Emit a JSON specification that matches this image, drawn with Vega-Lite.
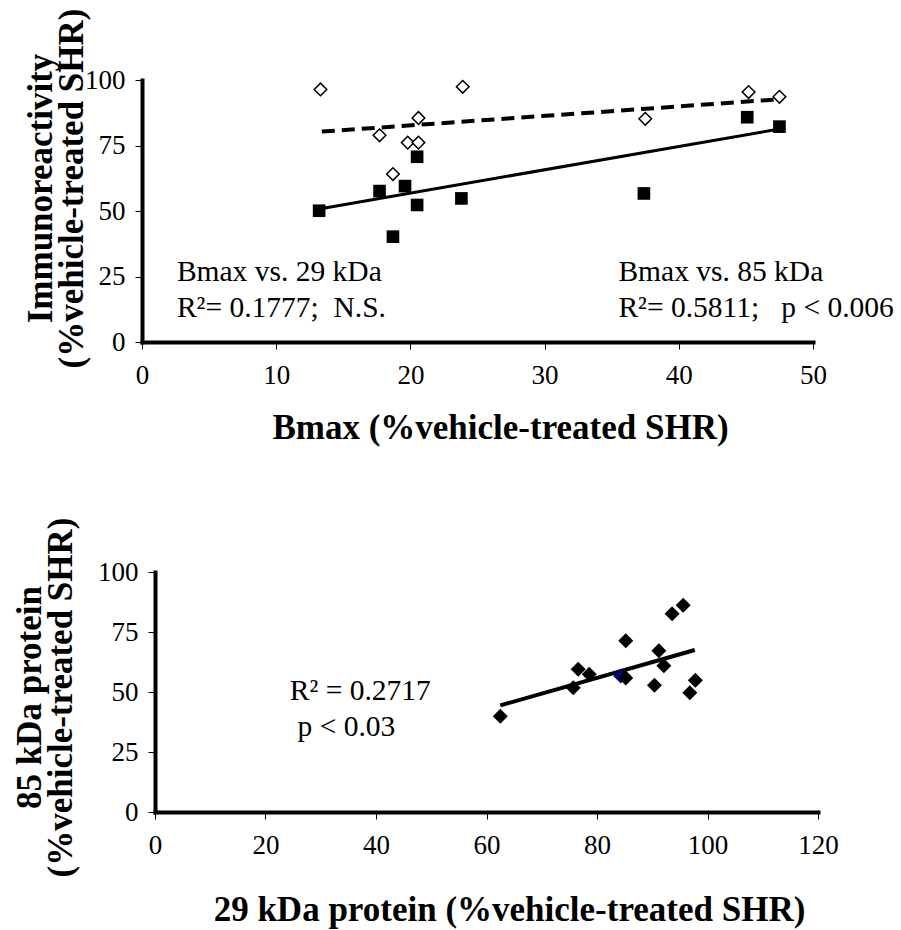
{
  "$schema": "https://vega.github.io/schema/vega-lite/v6.json",
  "background": "white",
  "padding": {"left": 12, "top": 8, "right": 5, "bottom": 5},
  "spacing": 230,
  "bounds": "flush",
  "config": {
    "font": "Liberation Serif",
    "view": {"stroke": null},
    "axis": {
      "grid": false,
      "domainColor": "black",
      "domainWidth": 4,
      "domainCap": "square",
      "tickColor": "black",
      "tickWidth": 1,
      "tickSize": 7,
      "labelFont": "Liberation Serif",
      "labelFontSize": 27,
      "labelColor": "black",
      "titleFont": "Liberation Serif",
      "titleFontSize": 35,
      "titleFontWeight": "bold",
      "titleColor": "black",
      "titleLineHeight": 31
    },
    "axisX": {"labelPadding": 13, "labelFlush": false, "labelOverlap": false},
    "axisY": {"labelPadding": 10, "labelOverlap": false}
  },
  "datasets": {
    "sq85": [
      {"bmax": 13.2, "pct": 50.1},
      {"bmax": 17.7, "pct": 57.6},
      {"bmax": 18.7, "pct": 40.2},
      {"bmax": 19.6, "pct": 59.5},
      {"bmax": 20.5, "pct": 70.7},
      {"bmax": 20.5, "pct": 52.3},
      {"bmax": 23.8, "pct": 54.8},
      {"bmax": 37.4, "pct": 56.7},
      {"bmax": 45.1, "pct": 85.8},
      {"bmax": 47.5, "pct": 82.2}
    ],
    "dm29": [
      {"bmax": 13.3, "pct": 96.4},
      {"bmax": 17.7, "pct": 78.9},
      {"bmax": 18.7, "pct": 64.1},
      {"bmax": 19.8, "pct": 76.1},
      {"bmax": 20.6, "pct": 85.5},
      {"bmax": 20.6, "pct": 76.1},
      {"bmax": 23.9, "pct": 97.4},
      {"bmax": 37.5, "pct": 85.2},
      {"bmax": 45.2, "pct": 95.4},
      {"bmax": 47.5, "pct": 93.6}
    ],
    "fits": [
      {"fit": "29 kDa", "bmax": 13.4, "pct": 80.3},
      {"fit": "29 kDa", "bmax": 47.4, "pct": 92.6},
      {"fit": "85 kDa", "bmax": 13.2, "pct": 50.8},
      {"fit": "85 kDa", "bmax": 47.4, "pct": 81.2}
    ],
    "notesTop": [
      {"bmax": 2.6, "pct": 23.1, "label": "Bmax vs. 29 kDa"},
      {"bmax": 2.6, "pct": 9.7, "label": "R²= 0.1777;\u00a0 N.S."},
      {"bmax": 35.5, "pct": 23.1, "label": "Bmax vs. 85 kDa"},
      {"bmax": 35.5, "pct": 9.7, "label": "R²= 0.5811;\u00a0\u00a0 p < 0.006"}
    ],
    "prot": [
      {"p29": 84.3, "p85": 56.7, "hue": "blue"},
      {"p29": 62.5, "p85": 39.9, "hue": "black"},
      {"p29": 75.7, "p85": 51.8, "hue": "black"},
      {"p29": 76.6, "p85": 59.5, "hue": "black"},
      {"p29": 78.6, "p85": 57.4, "hue": "black"},
      {"p29": 85.2, "p85": 71.4, "hue": "black"},
      {"p29": 85.2, "p85": 55.8, "hue": "black"},
      {"p29": 90.4, "p85": 52.8, "hue": "black"},
      {"p29": 91.2, "p85": 67.2, "hue": "black"},
      {"p29": 92.1, "p85": 60.9, "hue": "black"},
      {"p29": 93.6, "p85": 82.6, "hue": "black"},
      {"p29": 95.6, "p85": 86.1, "hue": "black"},
      {"p29": 96.8, "p85": 49.7, "hue": "black"},
      {"p29": 97.8, "p85": 54.9, "hue": "black"}
    ],
    "protFit": [
      {"p29": 62.5, "p85": 44.4},
      {"p29": 97.7, "p85": 67.5}
    ],
    "notesBottom": [
      {"p29": 24.4, "p85": 46.6, "label": "R² = 0.2717"},
      {"p29": 25.8, "p85": 31.8, "label": "p < 0.03"}
    ]
  },
  "vconcat": [
    {
      "width": 671,
      "height": 262,
      "encoding": {
        "x": {
          "field": "bmax", "type": "quantitative",
          "scale": {"domain": [0, 50], "nice": false, "zero": true},
          "axis": {"values": [0, 10, 20, 30, 40, 50], "title": "Bmax (%vehicle-treated SHR)", "titleX": 358, "titleY": 96, "titleBaseline": "alphabetic"}
        },
        "y": {
          "field": "pct", "type": "quantitative",
          "scale": {"domain": [0, 100], "nice": false},
          "axis": {"values": [0, 25, 50, 75, 100], "title": ["Immunoreactivity", "(%vehicle-treated SHR)"], "titleX": -84, "titleY": 108}
        }
      },
      "layer": [
        {
          "data": {"name": "fits"},
          "transform": [{"filter": "datum.fit === '29 kDa'"}],
          "mark": {"type": "line", "color": "black", "strokeWidth": 4, "strokeDash": [13, 7]}
        },
        {
          "data": {"name": "fits"},
          "transform": [{"filter": "datum.fit === '85 kDa'"}],
          "mark": {"type": "line", "color": "black", "strokeWidth": 3}
        },
        {
          "data": {"name": "dm29"},
          "mark": {"type": "point", "shape": "diamond", "filled": true, "fill": "white", "stroke": "black", "strokeWidth": 1.5, "size": 160, "opacity": 1}
        },
        {
          "data": {"name": "sq85"},
          "mark": {"type": "square", "color": "black", "size": 160, "opacity": 1}
        },
        {
          "data": {"name": "notesTop"},
          "mark": {"type": "text", "align": "left", "baseline": "alphabetic", "fontSize": 29.5, "color": "black", "font": "Liberation Serif"},
          "encoding": {"text": {"field": "label"}}
        }
      ]
    },
    {
      "width": 676,
      "height": 240,
      "encoding": {
        "x": {
          "field": "p29", "type": "quantitative",
          "scale": {"domain": [0, 120], "nice": false, "range": [13, 676]},
          "axis": {"values": [0, 20, 40, 60, 80, 100, 120], "title": "29 kDa protein (%vehicle-treated SHR)", "titleX": 367, "titleY": 108, "titleBaseline": "alphabetic"}
        },
        "y": {
          "field": "p85", "type": "quantitative",
          "scale": {"domain": [0, 100], "nice": false},
          "axis": {"values": [0, 25, 50, 75, 100], "offset": -13, "title": ["85 kDa protein", "(%vehicle-treated SHR)"], "titleX": -108, "titleY": 125}
        }
      },
      "layer": [
        {
          "data": {"name": "protFit"},
          "mark": {"type": "line", "color": "black", "strokeWidth": 4}
        },
        {
          "data": {"name": "prot"},
          "mark": {"type": "point", "shape": "diamond", "filled": true, "size": 225, "opacity": 1},
          "encoding": {
            "color": {"field": "hue", "type": "nominal", "scale": {"domain": ["blue", "black"], "range": ["#000080", "black"]}, "legend": null}
          }
        },
        {
          "data": {"name": "notesBottom"},
          "mark": {"type": "text", "align": "left", "baseline": "alphabetic", "fontSize": 29.5, "color": "black", "font": "Liberation Serif"},
          "encoding": {"text": {"field": "label"}}
        }
      ]
    }
  ]
}
